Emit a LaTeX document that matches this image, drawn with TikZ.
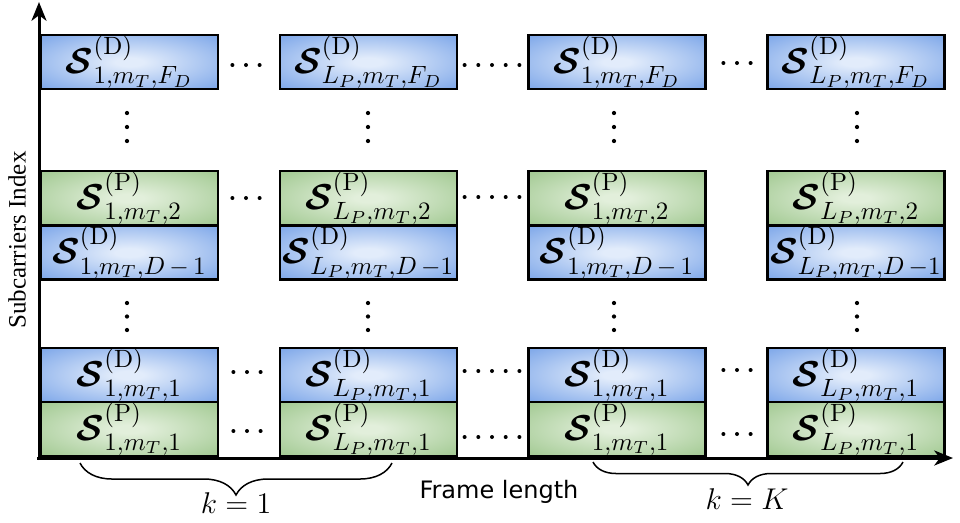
\documentclass[tikz,border=0pt]{standalone}
\usepackage{amsmath,bm}
\usepackage{fontspec}
\newfontfamily\dejavu{DejaVu Sans}
\newfontfamily\libserif{Liberation Serif}
\usetikzlibrary{arrows.meta,decorations.pathreplacing}
\definecolor{dOuter}{RGB}{104,152,229}
\definecolor{dInner}{RGB}{226,236,251}
\definecolor{pOuter}{RGB}{148,193,130}
\definecolor{pInner}{RGB}{226,239,219}
\pgfdeclareradialshading{dshade}{\pgfpoint{0bp}{0bp}}{color(0bp)=(dInner); color(4bp)=(dInner); color(42bp)=(dOuter); color(100bp)=(dOuter)}
\pgfdeclareradialshading{pshade}{\pgfpoint{0bp}{0bp}}{color(0bp)=(pInner); color(4bp)=(pInner); color(42bp)=(pOuter); color(100bp)=(pOuter)}
\newcommand{\Slab}[2]{$\bm{\mathcal{S}}^{(\mathrm{#1})}_{#2}$}
\begin{document}
\begin{tikzpicture}[x=0.4pt,y=-0.4pt,
  cell/.style={draw=black, line width=1pt, minimum width=70.8pt, minimum height=21.6pt, inner sep=0pt, font=\Large},
  dcell/.style={cell, shade, shading=dshade},
  pcell/.style={cell, shade, shading=pshade},
  axis/.style={line width=1.2pt, -{Stealth[length=7.5pt,width=6pt,inset=2.2pt]}},
  bracestyle/.style={line width=0.6pt, decorate},
  dotfill/.style={fill=black}]
\useasboundingbox (0,0) rectangle (960,522);
% axes
\coordinate (yb) at (39,460);
\coordinate (yt) at (39,2);
\coordinate (xb) at (37,458);
\coordinate (xt) at (953,458);
% row D top
\node[dcell] (dF1) at (129.5,62) {\Slab{D}{1,m_T,F_D}};
\node[dcell] (dF2) at (368.5,62) {\Slab{D}{L_P,m_T,F_D}};
\node[dcell] (dF3) at (617,62) {\Slab{D}{1,m_T,F_D}};
\node[dcell] (dF4) at (856,62) {\Slab{D}{L_P,m_T,F_D}};
% row P 2
\node[pcell] (p21) at (129.5,198) {\Slab{P}{1,m_T,2}};
\node[pcell] (p22) at (368.5,198) {\Slab{P}{L_P,m_T,2}};
\node[pcell] (p23) at (617,198) {\Slab{P}{1,m_T,2}};
\node[pcell] (p24) at (856,198) {\Slab{P}{L_P,m_T,2}};
% row D D-1
\node[dcell] (dd1) at (129.5,252.5) {\Slab{D}{1,m_T,D\,-\,1}};
\node[dcell] (dd2) at (368.5,252.5) {\Slab{D}{L_P,m_T,D\,-1}};
\node[dcell] (dd3) at (617,252.5) {\Slab{D}{1,m_T,D\,-\,1}};
\node[dcell] (dd4) at (856,252.5) {\Slab{D}{L_P,m_T,D\,-1}};
% row D 1
\node[dcell] (d11) at (129.5,375) {\Slab{D}{1,m_T,1}};
\node[dcell] (d12) at (368.5,375) {\Slab{D}{L_P,m_T,1}};
\node[dcell] (d13) at (617,375) {\Slab{D}{1,m_T,1}};
\node[dcell] (d14) at (856,375) {\Slab{D}{L_P,m_T,1}};
% row P 1
\node[pcell] (p11) at (129.5,429) {\Slab{P}{1,m_T,1}};
\node[pcell] (p12) at (368.5,429) {\Slab{P}{L_P,m_T,1}};
\node[pcell] (p13) at (617,429) {\Slab{P}{1,m_T,1}};
\node[pcell] (p14) at (856,429) {\Slab{P}{L_P,m_T,1}};
% axes drawn on top
\draw[axis] (yb) -- (yt);
\draw[axis] (xb) -- (xt);
% vertical dots
\foreach \x in {127,368,614,857}{
  \foreach \y in {113,127,141,303,316.5,330}{
    \fill[dotfill] (\x,\y) circle[radius=0.85pt];
  }
}
% horizontal dots: 3-dot groups
\foreach \cx/\cy in {246/65, 737/63, 246/198, 247/372, 737/370, 247/431, 737/434}{
  \foreach \i in {-1,0,1}{
    \fill[dotfill] (\cx+13.6*\i,\cy) circle[radius=0.8pt];
  }
}
% 5-dot groups
\foreach \cy in {65,197,371,437}{
  \foreach \i in {-2,-1,0,1,2}{
    \fill[dotfill] (492+13.7*\i,\cy) circle[radius=0.8pt];
  }
}
% braces
\coordinate (b1s) at (80,463);
\coordinate (b1e) at (392,463);
\coordinate (bKs) at (593,462);
\coordinate (bKe) at (903,462);
\draw[bracestyle, decoration={brace, mirror, amplitude=12.8pt}] (b1s) -- (b1e);
\draw[bracestyle, decoration={brace, mirror, amplitude=9.2pt}] (bKs) -- (bKe);
\node[font=\large] (k1) at (236,503) {$k=1$};
\node[font=\large] (kK) at (747,499) {$k=K$};
% axis labels
\node (xl) at (499,492) {\dejavu\fontsize{9.6}{11}\selectfont Frame length};
\node[rotate=90] (yl) at (17,240) {\libserif\fontsize{10}{12}\selectfont Subcarriers Index};
\end{tikzpicture}
\end{document}
